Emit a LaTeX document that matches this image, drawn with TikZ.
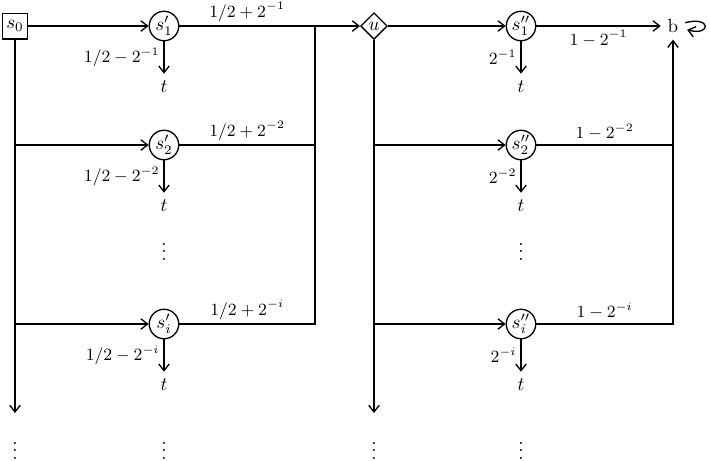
\documentclass[tikz,border=0pt]{standalone}
\usepackage{amsmath}
\usetikzlibrary{arrows.meta,positioning,shapes.geometric}

\begin{document}
\begin{tikzpicture}[x=0.526pt,y=-0.526pt, line width=0.7pt,
  >={Straight Barb[length=3.5pt,width=5.5pt]},
  st/.style={draw,circle,inner sep=0.5pt,minimum size=15.5pt},
  init/.style={draw,rectangle,inner sep=2pt,minimum height=13.5pt},
  mid/.style={draw,diamond,inner sep=1pt},
  lbl/.style={font=\small,inner sep=2pt},
  more/.style={inner sep=0pt}]
\useasboundingbox (0,0) rectangle (710,460);

\node[init] (s0) at (15,26) {$s_0$};
\node[mid] (u) at (374,26) {$u$};
\node (b) at (673,26) {b};

% one row per state s'_k / s''_k, each with its own sink t
\foreach \k/\y in {1/26,2/145,i/324} {
  \node[st] (a\k) at (164,\y) {$s'_{\k}$};
  \node[st] (c\k) at (521,\y) {$s''_{\k}$};
  \node[below=17pt of a\k] (ta\k) {$t$};
  \node[below=17pt of c\k] (tc\k) {$t$};
  \draw[->] (a\k) -- node[lbl,left]{$1/2-2^{-\k}$} (ta\k);
  \draw[->] (c\k) -- node[lbl,left]{$2^{-\k}$} (tc\k);
}

\coordinate (l2) at (15,145);
\coordinate (li) at (15,324);
\coordinate (lend) at (15,413);
\coordinate (j1) at (315,26);
\coordinate (j2) at (315,145);
\coordinate (ji) at (315,324);
\coordinate (m2) at (374,145);
\coordinate (mi) at (374,324);
\coordinate (mend) at (374,413);
\coordinate (r2) at (673,145);
\coordinate (ri) at (673,324);

\draw[->] (s0) -- (a1);
\draw[->] (s0) -- (lend);
\draw[->] (l2) -- (a2);
\draw[->] (li) -- (ai);

\draw[->] (a1) -- node[lbl,above]{$1/2+2^{-1}$} (j1) -- (u);
\draw (a2) -- node[lbl,above]{$1/2+2^{-2}$} (j2);
\draw (ai) -- node[lbl,above]{$1/2+2^{-i}$} (ji) -- (j1);

\draw[->] (u) -- (c1);
\draw[->] (u) -- (mend);
\draw[->] (m2) -- (c2);
\draw[->] (mi) -- (ci);

\draw[->] (c1) -- node[lbl,below]{$1-2^{-1}$} (b);
\draw (c2) -- node[lbl,above]{$1-2^{-2}$} (r2);
\draw[->] (ci) -- node[lbl,above]{$1-2^{-i}$} (ri) -- (b);
\draw[->] (b) edge[loop right] (b);

% the dots: rows and columns go on
\node[more] (va) at (164,246) {$\vdots$};
\node[more] (vc) at (521,246) {$\vdots$};
\node[more] (d0) at (15,445) {$\vdots$};
\node[more] (da) at (164,445) {$\vdots$};
\node[more] (du) at (374,445) {$\vdots$};
\node[more] (dc) at (521,445) {$\vdots$};
\end{tikzpicture}
\end{document}
